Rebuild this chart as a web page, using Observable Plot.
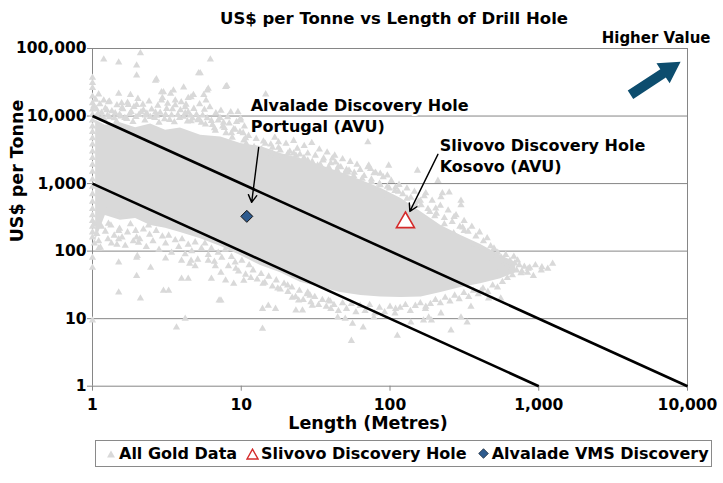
<!DOCTYPE html>
<html><head><meta charset="utf-8">
<script src="https://cdn.jsdelivr.net/npm/d3@7"></script>
<script src="https://cdn.jsdelivr.net/npm/@observablehq/plot@0.6"></script>
<style>
body{margin:0;background:#fff;}
#wrap{position:relative;width:723px;height:483px;overflow:hidden;font-family:"DejaVu Sans";}
#wrap svg{position:absolute;left:0;top:0;}
#legend{position:absolute;left:95px;top:440px;width:615px;height:25px;border:1px solid #8a8a8a;display:flex;align-items:center;font:bold 16px "DejaVu Sans";white-space:nowrap;color:#000;}
#legend svg{position:static;display:block;}
</style></head><body><div id="wrap"></div>
<script>
// ---- data ----
const xTicks = [1, 10, 100, 1000, 10000];
const yTicks = [1, 10, 100, 1000, 10000, 100000];

// dense core of the "All Gold Data" cloud (envelope)
const coreX  = [1.05, 1.22, 1.54, 1.95, 2.46, 3.1, 3.9, 5.33, 7.3, 9.9, 13.5, 18.4, 25, 34.3, 46.6, 63.8, 86.7, 118.7, 162, 220, 300, 407, 555, 700];
const coreHi = [8630, 7280, 7950, 6700, 7600, 6140, 6650, 5180, 4900, 3930, 3530, 2780, 2350, 1850, 1460, 1120, 850, 600, 380, 240, 170, 125, 86, 68];
const coreLo = [144, 337, 286, 305, 240, 218, 188, 153, 117, 86, 61, 48, 34.5, 29, 24.5, 22, 21, 20.5, 21, 24.5, 29, 33, 39, 48];

// individual "All Gold Data" points [length m, US$/t]
const goldData = [
[1.19,69000],[1.5,62000],[2.1,85000],[1.98,56000],[1.98,40000],[2.69,35000],[6.2,69000],[5.17,43000],[7.85,27000],
[1.0,37000],[1.0,31000],[1.1,21000],[1.19,17000],[1.28,16000],[1.5,21500],[1.57,15500],[1.8,20500],[1.74,14600],
[1.98,14600],[2.91,22500],[3.35,21500],[2.91,17000],[4.1,26500],[4.4,18500],[4.77,20500],[5.6,20500],[6.0,25500],
[5.8,17000],[3.6,17000],[4.2,13500],[2.65,11300],[2.27,10200],[4.55,10200],[5.17,9200],[7.6,8000],[9.9,9200],
[10.7,4700],[8.6,5600],[6.7,6100],[2.65,33500],[3.0,22500],[3.5,24000],[5.3,43000],[8.0,28000],[4.6,19000],[5.9,24000],
[14.6,21000],[9.9,8600],[17.8,4100],[22.5,2800],[28,2200],[32.6,1850],[35.8,2350],[43,2050],[46.7,1750],[52,1460],
[71,4100],[74,1650],[86,1400],[153,1560],[98,1850],[210,1100],[174,720],[225,720],[250,740],[300,560],[300,480],[315,200],
[220,630],[203,430],[270,320],[308,225],[378,113],[680,83],[720,73],[1040,52],[1240,65],[850,55],[920,43],[555,57],
[760,47],[410,26],[350,15],[220,12],[174,15],[300,10.4],[460,20],[555,20],[182,10.4],
[257,6.7],[112,5.6],[190,9.4],[330,8.8],[138,8.8],
[13.9,7.1],[13.9,14],[15.2,15.6],[17,14],[22,20.5],[24.3,18.6],[28,24.5],[23.3,13.2],[25.8,13.2],[30,15.6],[38.6,18.6],
[40,14],[44.5,10.4],[50,10],[56,8.4],[55,4.7],[66,7.4],[78,10.4],[109,14],[168,9.4],[10.4,36.6],[8.9,33],[11.6,40],
[14,33],[17.6,28],[20.5,31],[29,22],
[1.0,80],[1.0,160],[1.0,280],[1.0,340],[1.1,110],[1.28,425],[1.28,255],[1.5,340],[1.5,200],[1.5,150],[1.34,130],[1.5,68],
[1.98,160],[2.04,133],[1.98,80],[1.98,43],[2.1,20],[1.5,24.5],[2.46,57],[2.38,240],[3.1,78],[3.0,26],[3.25,26],[3.97,72],
[4.6,72],[4.9,60],[3.97,39],[4.4,39],[3.67,7.4],[4.2,10],[6.0,72],[6.7,60],[6.3,39],[7.3,48],[7.3,18.6],[7.85,36.7],
[9.2,55],[1.0,9.4],[1.0,57],[2.0,85],[4.5,65],[1.13,113],[7.1,18.6],
[10.4,4350],[16.2,2800],[26.3,2000],[41,2350],[53,1570],[72,1850],[78,1430],[96,1320],[109,880],[96,630],
[1,26000],[1,19500],[1,15500],[1,12500],[1,10500],[1,8600],[1,7000],[1,5800],[1,4700],[1,3800],[1,3000],[1,2400],
[1,1900],[1,1500],[1,1150],[1,900],[1,700],[1,540],[1,420],[1,230],[1,190],[1.03,130],[1.06,12800],[1.08,9800],
[1.15,11200],[1.2,8900],[1.25,12200],[1.3,9600],[1.42,11000],[1.45,8300],
[1.55,9900],[1.6,12700],[1.7,9100],[1.82,11500],[1.87,8200],
[2.05,10400],[2.2,12200],[2.25,8600],[2.45,9700],[2.7,10100],[2.8,8000],
[3.05,9000],[3.15,12800],[3.4,10300],[3.55,8100],[3.85,9400],[4.2,11000],[4.35,8300],[4.7,9200],
[5.1,8700],[5.5,10200],[5.75,7500],[6.3,8500],[6.6,6600],[7.2,9400],[7.5,7000],[7.9,5600],[8.3,7800],[8.7,4800],[9.1,6300],
[10.3,5600],[10.8,3900],[12.2,3500],[13.7,3200],[14.5,3900],[16.2,3400],[17.2,2600],[18.3,3100],[19.4,2400],
[20.6,2800],[23.3,2600],[26.4,2400],[30,2100],[34,1900],[38.7,1750],[44,1600],
[50,1450],[57,1300],[65,1180],[75,1060],[86,950],[99,850],[114,760],
[130,600],[150,470],[160,560],[185,380],[200,330],[232,250],[268,185],[312,140],[360,110],[420,88],[490,75],[570,62],
[610,60],[660,56],[710,52],[770,50],[840,48],
// upper fringe
[1.02,14000],[1.05,17500],[1.09,11000],[1.12,15000],[1.16,9500],[1.22,13000],[1.26,10200],[1.3,16500],[1.35,11800],
[1.4,9300],[1.46,14500],[1.52,10500],[1.58,13200],
[1.65,9400],[1.72,15800],[1.78,10800],[1.9,13600],[1.96,9700],[2.02,18000],[2.12,11400],[2.18,14800],[2.32,10900],
[2.4,16500],[2.5,12500],[2.62,9400],[2.75,14200],[2.85,11200],[2.95,18500],[3.1,10500],[3.2,15200],[3.3,8800],
[3.45,12600],[3.6,14500],[3.75,10400],[3.9,12200],[3.95,16000],
[4.1,9800],[4.25,14800],[4.4,11400],[4.6,8400],[4.8,12800],[5.0,10500],[5.25,15000],[5.4,8000],[5.65,12400],[5.9,9300],
[6.15,13500],[6.4,7400],[6.75,11000],[7.0,8600],[7.3,12000],[7.7,6700],[8.1,9600],[8.5,11400],[8.9,6400],[9.3,8200],
[9.8,5800],[9.5,11500],
[10.5,7000],[11.2,5100],[12.6,4600],[14.1,4200],[15.8,3800],[16.8,4800],[17.8,3400],[20,3900],[21.2,3000],[22.5,4300],
[23.8,3300],[24.8,2700],
[26.5,3600],[28,2800],[29.8,4000],[31.5,2600],[33.5,3200],[35.5,2200],[37.8,2900],[40,2000],[42.5,2600],[45,1800],
[48,2300],[51,1600],[54,2100],[57.5,1450],[60,1900],
[63,1600],[67,1300],[71,1750],[75,1150],[80,1450],[85,1000],[90,1250],[96,900],[102,1100],[108,780],[115,960],[122,700],
[130,850],[138,620],[146,760],[155,540],
[162,480],[170,650],[180,420],[192,560],[205,360],[218,470],[232,310],[246,400],[262,270],[278,340],[295,230],[315,280],
[335,195],[355,230],[378,165],[400,190],[425,140],[450,155],[475,118],
[500,110],[530,95],[560,80],[600,88],[640,72],[690,66],[740,62],[800,59],[870,57],[950,62],[1050,58],[1150,55],
// lower fringe
[1.03,250],[1.07,180],[1.1,140],[1.15,230],[1.22,195],[1.27,150],[1.33,240],[1.4,170],[1.46,125],[1.52,215],[1.58,160],
[1.66,120],[1.72,190],[1.8,250],[1.88,140],[1.95,200],
[2.08,150],[2.2,210],[2.3,115],[2.42,175],[2.55,140],[2.68,200],[2.8,105],[2.95,165],[3.1,130],[3.25,170],[3.4,95],
[3.6,145],[3.8,115],[4.0,150],[4.2,90],[4.4,125],[4.65,100],[4.9,135],[5.1,75],
[5.4,110],[5.7,130],[6.0,88],[6.3,110],[6.6,70],[7.0,95],[7.4,80],[7.8,105],[8.2,60],[8.6,82],[9.1,68],[9.6,50],
[10.1,72],[10.7,45],[11.3,62],
[12,52],[12.8,38],[13.6,46],[14.4,34],[15.3,42],[16.2,30],[17.2,37],[18.3,27],[19.4,33],[20.6,25],[21.9,29],[23.2,21],
[24.6,26],[26.1,19],[27.7,23],[29.4,17.5],[31.2,21],[33.1,16],[35.1,19],[37.3,15],[39.6,18],
[42,16],[45,13],[48,17],[51,14],[55,16.5],[59,12.5],[63,15.5],[68,13],[73,16],[79,12],[85,14.5],[92,12.5],[100,15],
[108,12],[117,14.5],[127,16],[137,13],[148,15.5],[160,17],[173,14],[187,16.5],[202,19],
[218,17],[235,20.5],[253,18],[272,22],[292,19.5],[314,24],[338,21],[364,26],[392,23],[422,28],[455,25],[490,31],
[528,29],[570,35],[615,40],[665,44]
];

const slivovo  = [{x: 127, y: 266}];
const alvalade = [{x: 10.9, y: 327}];

// guide lines of constant value
const guideLines = [{x1: 1, y1: 10000, x2: 10000, y2: 1}, {x1: 1, y1: 1000, x2: 1000, y2: 1}];

// annotations
const annoText = [
  {x: 11.57, y: 10400, text: "Alvalade Discovery Hole\nPortugal (AVU)"},
  {x: 216, y: 2660, text: "Slivovo Discovery Hole\nKosovo (AVU)"}
];
const annoArrows = [
  {x1: 13.1, y1: 3440, x2: 11.75, y2: 527},
  {x1: 210, y1: 2710, x2: 136, y2: 387}
];
const higherArrow = {x1: 4170, y1: 20300, x2: 9060, y2: 62500};

const titleText = "US$ per Tonne vs Length of Drill Hole";
const xLabel = "Length (Metres)";
const yLabel = "US$ per Tonne";
const legendItems = ["All Gold Data", "Slivovo Discovery Hole", "Alvalade VMS Discovery"];

// ---- chart ----
const core = coreX.map((x, i) => ({x, lo: coreLo[i], hi: coreHi[i]}));
const GREY = "#D9D9D9", AXIS = "#868686";

const plot = Plot.plot({
  width: 723, height: 483,
  marginLeft: 92, marginRight: 36, marginTop: 48, marginBottom: 97.3,
  style: {fontFamily: "DejaVu Sans", fontSize: "15.5px", fontWeight: "bold", color: "#000", background: "transparent", overflow: "visible"},
  x: {type: "log", domain: [1, 10000], ticks: xTicks, tickFormat: d3.format(","), tickSize: 5, tickPadding: 8, label: null},
  y: {type: "log", domain: [1, 100000], ticks: yTicks, tickFormat: d3.format(","), tickSize: 5, tickPadding: 1, label: null},
  marks: [
    Plot.ruleY(yTicks, {stroke: AXIS, strokeWidth: 1}),
    Plot.ruleX([1, 10000], {stroke: AXIS, strokeWidth: 1}),
    Plot.areaY(core, {x: "x", y1: "lo", y2: "hi", fill: GREY, curve: "linear"}),
    Plot.dot(goldData, {x: d => d[0], y: d => d[1], symbol: "triangle", r: 2.7, fill: GREY, stroke: null}),
    Plot.link(guideLines, {x1: "x1", y1: "y1", x2: "x2", y2: "y2", stroke: "#000", strokeWidth: 2.6}),
    Plot.arrow(annoArrows, {x1: "x1", y1: "y1", x2: "x2", y2: "y2", stroke: "#000", strokeWidth: 1.4, headLength: 9}),
    Plot.dot(slivovo, {x: "x", y: "y", symbol: "triangle", r: 6.7, fill: "#fff", stroke: "#D42A2A", strokeWidth: 1.6}),
    Plot.dot(alvalade, {x: "x", y: "y", symbol: "diamond2", r: 5.4, fill: "#2E5B8E", stroke: "#111", strokeWidth: 1}),
    Plot.text(annoText, {x: "x", y: "y", text: "text", textAnchor: "start", lineAnchor: "middle", fontSize: 16, lineHeight: 1.3, fill: "#000", stroke: "#fff", strokeWidth: 4}),
    Plot.text([titleText], {text: d => d, frameAnchor: "top", dx: 4, dy: -36, fontSize: 16.5, fill: "#000"}),
    Plot.text(["Higher Value"], {text: d => d, frameAnchor: "top-right", dx: 23, dy: -16, textAnchor: "end", fontSize: 15, fill: "#000"}),
    Plot.text([xLabel], {text: d => d, frameAnchor: "bottom", dx: -22, dy: 43, fontSize: 17.5, fill: "#000"}),
    Plot.text([yLabel], {text: d => d, frameAnchor: "left", rotate: -90, dx: -75, dy: 25, fontSize: 17.5, fill: "#000"})
  ]
});

// grey tick marks
d3.select(plot).selectAll("g[aria-label*='axis'] line, g[aria-label*='axis'] path").attr("stroke", AXIS);
d3.select(plot).selectAll("text").style("paint-order", "stroke");

// block arrow "Higher Value"
{
  const xs = plot.scale("x"), ys = plot.scale("y");
  const sx = d3.scaleLog().domain(xs.domain).range(xs.range);
  const sy = d3.scaleLog().domain(ys.domain).range(ys.range);
  const tx = sx(higherArrow.x1), ty = sy(higherArrow.y1), hx = sx(higherArrow.x2), hy = sy(higherArrow.y2);
  const L = Math.hypot(hx - tx, hy - ty), ux = (hx - tx) / L, uy = (hy - ty) / L, nx = -uy, ny = ux;
  const sw = 5, hw = 12, hl = 21;
  const bx = hx - ux * hl, by = hy - uy * hl;
  const pts = [
    [tx + nx * sw, ty + ny * sw], [bx + nx * sw, by + ny * sw], [bx + nx * hw, by + ny * hw], [hx, hy],
    [bx - nx * hw, by - ny * hw], [bx - nx * sw, by - ny * sw], [tx - nx * sw, ty - ny * sw]
  ];
  d3.select(plot).append("path").attr("d", "M" + pts.map(p => p.join(",")).join("L") + "Z").attr("fill", "#0D4D6E");
}

const wrap = document.getElementById("wrap");
wrap.appendChild(plot);

// legend
const leg = document.createElement("div");
leg.id = "legend";
const sym = [
  `<svg width="8" height="8" style="margin-left:11px;margin-right:4px"><polygon points="0,7.5 4,0.5 8,7.5" fill="${GREY}"/></svg>`,
  `<svg width="13" height="12" style="margin-left:9px;margin-right:2px"><polygon points="1,11 6.5,1.2 12,11" fill="#fff" stroke="#D42A2A" stroke-width="1.4"/></svg>`,
  `<svg width="11" height="11" style="margin-left:11px;margin-right:3px"><polygon points="5.5,0.7 10.3,5.5 5.5,10.3 0.7,5.5" fill="#2E5B8E" stroke="#1a2a3a" stroke-width="0.8"/></svg>`
];
leg.innerHTML = legendItems.map((t, i) => sym[i] + `<span>${t}</span>`).join("");
wrap.appendChild(leg);
</script></body></html>
